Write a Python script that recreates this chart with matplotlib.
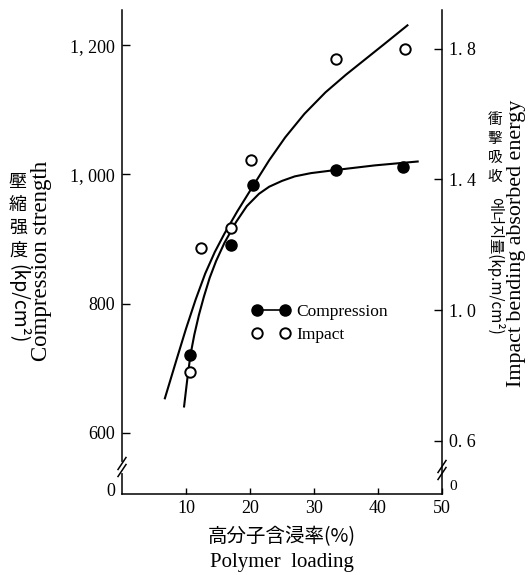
import matplotlib.pyplot as plt
from matplotlib.lines import Line2D

plt.rcParams['font.family'] = ['Liberation Serif', 'Noto Sans CJK KR']

CJK = ['Noto Sans CJK JP', 'Liberation Serif']

# measured points: polymer loading (%)
comp_x = [10.7, 17.1, 20.5, 33.5, 43.9]
comp_y = [721, 891, 983, 1007, 1012]          # compression strength (kp/cm2)
imp_x = [10.7, 12.4, 17.1, 20.2, 33.5, 44.2]
imp_y = [0.81, 1.19, 1.25, 1.46, 1.77, 1.80]  # impact absorbed energy (kp.m/cm2)

# hand-fitted trend curves
comp_fit_x = [9.7, 10.2, 10.7, 11.3, 12.0, 12.8, 13.7, 14.7, 16.0, 17.8,
              19.5, 21.4, 23.0, 25.0, 27.0, 29.5, 33.5, 39.5, 46.2]
comp_fit_y = [641, 683, 721, 752, 782, 811, 840, 866, 894, 926,
              951, 970, 981, 990, 997, 1002, 1007, 1014, 1020]
imp_fit_x = [6.7, 8.5, 10.0, 11.5, 13.0, 14.5, 16.0, 18.0, 20.5, 23.0,
             25.5, 28.5, 31.8, 35.0, 38.0, 41.0, 44.6]
imp_fit_y = [0.730, 0.847, 0.943, 1.032, 1.112, 1.178, 1.234, 1.302, 1.381, 1.459,
             1.529, 1.601, 1.667, 1.721, 1.768, 1.815, 1.872]

xticks = [10, 20, 30, 40, 50]
left_ticks = [600, 800, 1000, 1200]
left_labels = ['600', '800', '1, 000', '1, 200']
right_ticks = [0.6, 1.0, 1.4, 1.8]
right_labels = ['0. 6', '1. 0', '1. 4', '1. 8']

W, H = 531, 575


def fx(px):
    return px / W


def fy(py):
    return 1 - py / H


fig = plt.figure(figsize=(W / 100, H / 100), dpi=100)
ax = fig.add_axes([fx(122), fy(494), 320 / W, 484 / H])
ax2 = ax.twinx()

ax.set_xlim(0, 50)
ax.set_ylim(505.6, 1254.4)
ax2.set_ylim(0.437, 1.919)

# compression on the left scale
ax.plot(comp_fit_x, comp_fit_y, color='black', lw=1.5)
ax.plot(comp_x, comp_y, 'o', color='black', ms=8)

# impact on the right scale
ax2.plot(imp_fit_x, imp_fit_y, color='black', lw=1.5)
ax2.plot(imp_x, imp_y, 'o', mfc='white', mec='black', mew=1.4, ms=7.5)

for s in ['top', 'right']:
    ax.spines[s].set_visible(False)
for s in ['top', 'left', 'bottom']:
    ax2.spines[s].set_visible(False)
for sp in list(ax.spines.values()) + list(ax2.spines.values()):
    sp.set_linewidth(1.1)

ax.set_xticks(xticks)
ax.set_xticklabels([str(t) for t in xticks])
ax.set_yticks(left_ticks)
ax.set_yticklabels(left_labels)
ax2.set_yticks(right_ticks)
ax2.set_yticklabels(right_labels)
ax.tick_params(axis='x', direction='in', length=4, width=1, pad=4, labelsize=13)
ax.tick_params(axis='y', direction='in', length=6, width=1, pad=5, labelsize=13)
ax2.tick_params(axis='y', direction='in', length=6, width=1, pad=5, labelsize=13)

# zero labels below the axis breaks
fig.text(fx(111), fy(491), '0', fontsize=13, ha='center', va='center')
fig.text(fx(453), fy(487), '0', fontsize=11, ha='center', va='center')


def axis_break(xa, y0):
    w, h = 320, 484
    ax.plot([xa, xa], [y0 - 3.5 / h, y0 + 3.5 / h], color='white', lw=3,
            transform=ax.transAxes, clip_on=False, zorder=5)
    for d in (-3.5, 3.5):
        ax.plot([xa - 4 / w, xa + 4 / w], [y0 + (d - 6) / h, y0 + (d + 6) / h],
                color='black', lw=1.1, transform=ax.transAxes, clip_on=False, zorder=6)


axis_break(0, 27 / 484)
axis_break(1, 24 / 484)

# legend
h_comp = Line2D([], [], color='black', marker='o', ms=8, lw=1.2)
h_imp = Line2D([], [], color='black', marker='o', ms=7.5, mfc='white', mew=1.4, ls='none')
ax.legend([h_comp, h_imp], ['Compression', 'Impact'], numpoints=2, frameon=False,
          loc='upper left', bbox_to_anchor=(0.406, 0.392), borderpad=0, borderaxespad=0,
          handlelength=2.2, handletextpad=0.35, labelspacing=0.35, fontsize=12.5)

# left axis title
for i, ch in enumerate('壓縮强度'):
    fig.text(fx(18), fy(182 + 23 * i), ch, family=CJK, fontsize=13, ha='center', va='center')
fig.text(fx(18), fy(304), '(kp/cm²)', family=CJK, fontsize=14, rotation=-90,
         ha='center', va='center')
fig.text(fx(42), fy(261), 'Compression strength', fontsize=16.5, rotation=90,
         ha='center', va='center')

# right axis title
for i, ch in enumerate('衝擊吸收'):
    fig.text(fx(495), fy(120 + 19 * i), ch, family=CJK, fontsize=10.5, ha='center', va='center')
fig.text(fx(495), fy(266), '에너지量(kp.m/cm²)', family=CJK, fontsize=11, rotation=-90,
         ha='center', va='center')
fig.text(fx(517), fy(243), 'Impact bending absorbed energy', fontsize=15.8, rotation=90,
         ha='center', va='center')

# x axis title
fig.text(fx(282), fy(537), '高分子含浸率(%)', family=CJK, fontsize=14, ha='center', va='center')
fig.text(fx(282), fy(562), 'Polymer  loading', fontsize=15, ha='center', va='center')

fig.savefig('out.png', dpi=100)
